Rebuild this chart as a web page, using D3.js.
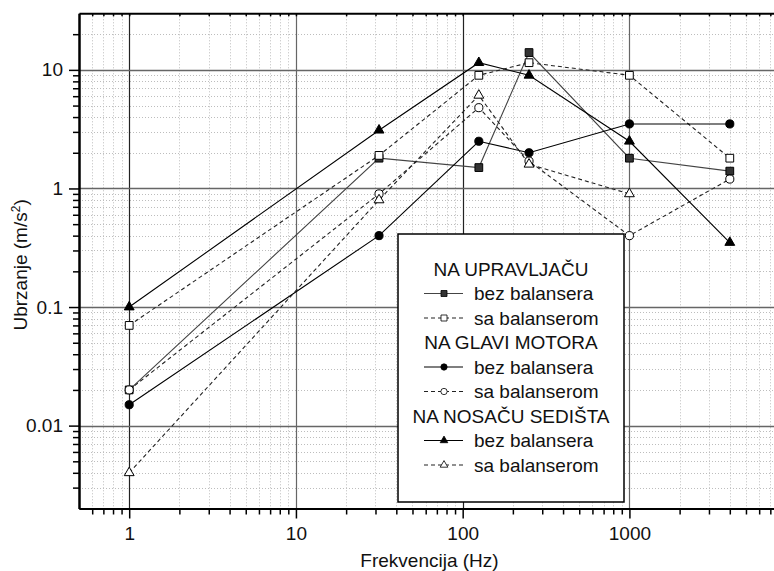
<!DOCTYPE html>
<html>
<head>
<meta charset="utf-8">
<script src="https://cdn.jsdelivr.net/npm/d3@7"></script>
<style>
  body { margin: 0; background: #fff; }
  svg text { font-family: "Liberation Sans", Arial, sans-serif; fill: #111; }
</style>
</head>
<body>
<script>
var w = 774;
var h = 571;

// frequencies (Hz) and measured accelerations (m/s^2)
var freqs = [1, 31.5, 125, 250, 1000, 4000];
var upravljacBez = [0.02, 1.8, 1.5, 14, 1.8, 1.4];
var upravljacSa = [0.07, 1.9, 9, 11.5, 9, 1.8];
var glavaBez = [0.015, 0.4, 2.5, 2.0, 3.5, 3.5];
var glavaSa = [0.02, 0.9, 4.8, 1.7, 0.4, 1.2];
var sedisteBez = [0.1, 3.1, 11.5, 9, 2.5, 0.35];
var sedisteSa = [0.004, 0.8, 6.1, 1.6, 0.9, null];

var xTicks = [1, 10, 100, 1000];
var yTicks = [0.01, 0.1, 1, 10];
var legendGroups = ["NA UPRAVLJAČU", "NA GLAVI MOTORA", "NA NOSAČU SEDIŠTA"];
var legendLabels = ["bez balansera", "sa balanserom"];

var series = [
  {vals: upravljacBez, sym: d3.symbolSquare, fill: "#333", line: "#444", dash: null, size: 60},
  {vals: upravljacSa, sym: d3.symbolSquare, fill: "#fff", line: "#222", dash: "4,3", size: 60},
  {vals: glavaBez, sym: d3.symbolCircle, fill: "#000", line: "#000", dash: null, size: 52},
  {vals: glavaSa, sym: d3.symbolCircle, fill: "#fff", line: "#222", dash: "4,3", size: 52},
  {vals: sedisteBez, sym: d3.symbolTriangle, fill: "#000", line: "#000", dash: null, size: 42},
  {vals: sedisteSa, sym: d3.symbolTriangle, fill: "#fff", line: "#222", dash: "4,3", size: 42}
];

var pLeft = 79, pRight = 780, pTop = 13.3, pBottom = 508.5;

var x = d3.scaleLog().domain([0.5, 8000]).range([pLeft, pRight]);
var y = d3.scaleLog().domain([0.002, 30]).range([pBottom, pTop]);

var svg = d3.select("body").append("svg")
  .attr("width", w)
  .attr("height", h);

svg.append("defs").append("clipPath").attr("id", "clip")
  .append("rect").attr("x", pLeft).attr("y", pTop)
  .attr("width", pRight - pLeft).attr("height", pBottom - pTop);

// minor tick positions
var xMinor = [], yMinor = [];
[0.1, 1, 10, 100, 1000].forEach(function(p) {
  for (var k = 2; k <= 9; k++) {
    var v = p * k;
    if (v > 0.5 && v < 8000) xMinor.push(v);
  }
});
[0.001, 0.01, 0.1, 1, 10].forEach(function(p) {
  for (var k = 2; k <= 9; k++) {
    var v = p * k;
    if (v > 0.002 && v < 30) yMinor.push(v);
  }
});

var grid = svg.append("g").attr("clip-path", "url(#clip)");
grid.selectAll("line.xm").data(xMinor).enter().append("line")
  .attr("x1", function(d) { return Math.round(x(d)) + 0.5; })
  .attr("x2", function(d) { return Math.round(x(d)) + 0.5; })
  .attr("y1", pTop).attr("y2", pBottom)
  .attr("stroke", "#bdbdbd").attr("stroke-dasharray", "1,2");
grid.selectAll("line.ym").data(yMinor).enter().append("line")
  .attr("y1", function(d) { return Math.round(y(d)) + 0.5; })
  .attr("y2", function(d) { return Math.round(y(d)) + 0.5; })
  .attr("x1", pLeft).attr("x2", pRight)
  .attr("stroke", "#bdbdbd").attr("stroke-dasharray", "1,2");
grid.selectAll("line.xM").data(xTicks).enter().append("line")
  .attr("x1", function(d) { return Math.round(x(d)) + 0.5; })
  .attr("x2", function(d) { return Math.round(x(d)) + 0.5; })
  .attr("y1", pTop).attr("y2", pBottom)
  .attr("stroke", function(d, i) { return i % 2 ? "#666" : "#222"; })
  .attr("stroke-width", 1.2);
grid.selectAll("line.yM").data(yTicks).enter().append("line")
  .attr("y1", function(d) { return Math.round(y(d)) + 0.5; })
  .attr("y2", function(d) { return Math.round(y(d)) + 0.5; })
  .attr("x1", pLeft).attr("x2", pRight)
  .attr("stroke", "#666").attr("stroke-width", 1.5);

// axes
function styleAxis(g) {
  g.select(".domain").attr("stroke", "#000").attr("stroke-width", 2);
  g.selectAll(".tick line").attr("stroke", "#000").attr("stroke-width", 1.5);
}
svg.append("g").attr("transform", "translate(0," + pBottom + ")")
  .call(d3.axisBottom(x).tickValues(xMinor).tickSize(6).tickSizeOuter(0).tickFormat(""))
  .call(styleAxis);
var xa = svg.append("g").attr("transform", "translate(0," + pBottom + ")")
  .call(d3.axisBottom(x).tickValues(xTicks).tickSize(10).tickSizeOuter(0).tickFormat(d3.format("")))
  .call(styleAxis);
xa.selectAll("text").attr("font-size", "19px").attr("fill", "#111").attr("y", 18);

svg.append("g").attr("transform", "translate(0," + pTop + ")")
  .call(d3.axisBottom(x).tickValues(xMinor.concat(xTicks)).tickSize(3).tickSizeOuter(0).tickFormat(""))
  .call(styleAxis);

svg.append("g").attr("transform", "translate(" + pLeft + ",0)")
  .call(d3.axisLeft(y).tickValues(yMinor).tickSize(6).tickSizeOuter(0).tickFormat(""))
  .call(styleAxis);
var ya = svg.append("g").attr("transform", "translate(" + pLeft + ",0)")
  .call(d3.axisLeft(y).tickValues(yTicks).tickSize(10).tickSizeOuter(0).tickFormat(d3.format("")))
  .call(styleAxis);
ya.selectAll("text").attr("font-size", "19px").attr("fill", "#111").attr("x", -16);

// series
var line = d3.line()
  .defined(function(d) { return d.v != null; })
  .x(function(d) { return x(d.f); })
  .y(function(d) { return y(d.v); });

var plot = svg.append("g").attr("clip-path", "url(#clip)");
series.forEach(function(s) {
  var pts = freqs.map(function(f, i) { return {f: f, v: s.vals[i]}; });
  plot.append("path").datum(pts)
    .attr("d", line)
    .attr("fill", "none")
    .attr("stroke", s.line)
    .attr("stroke-width", 1.1)
    .attr("stroke-dasharray", s.dash);
});
series.forEach(function(s) {
  var pts = freqs.map(function(f, i) { return {f: f, v: s.vals[i]}; })
    .filter(function(d) { return d.v != null; });
  plot.selectAll(null).data(pts).enter().append("path")
    .attr("transform", function(d) { return "translate(" + x(d.f) + "," + y(d.v) + ")"; })
    .attr("d", d3.symbol().type(s.sym).size(s.size))
    .attr("fill", s.fill)
    .attr("stroke", "#000")
    .attr("stroke-width", 1);
});

// legend
var lg = svg.append("g");
lg.append("rect")
  .attr("x", 398).attr("y", 234).attr("width", 226).attr("height", 268)
  .attr("fill", "#fff").attr("stroke", "#000").attr("stroke-width", 1.5);
var rowY = 269, rowStep = 24.5;
legendGroups.forEach(function(g, gi) {
  lg.append("text")
    .attr("x", 511).attr("y", rowY + (gi * 3) * rowStep)
    .attr("dy", "0.35em").attr("text-anchor", "middle")
    .attr("font-size", "19px").text(g);
  legendLabels.forEach(function(lab, li) {
    var s = series[gi * 2 + li];
    var yy = rowY + (gi * 3 + li + 1) * rowStep;
    lg.append("line")
      .attr("x1", 424).attr("x2", 463).attr("y1", yy).attr("y2", yy)
      .attr("stroke", s.line).attr("stroke-width", 1.1)
      .attr("stroke-dasharray", s.dash);
    lg.append("path")
      .attr("transform", "translate(444," + yy + ")")
      .attr("d", d3.symbol().type(s.sym).size(s.size * 0.6))
      .attr("fill", s.fill).attr("stroke", "#000").attr("stroke-width", 0.8);
    lg.append("text")
      .attr("x", 474).attr("y", yy).attr("dy", "0.35em")
      .attr("font-size", "19px").text(lab);
  });
});

// axis titles
svg.append("text")
  .attr("x", (pLeft + pRight) / 2).attr("y", 567)
  .attr("text-anchor", "middle").attr("font-size", "19px")
  .text("Frekvencija (Hz)");
var yt = svg.append("text")
  .attr("transform", "translate(27," + ((pTop + pBottom) / 2 + 4) + ") rotate(-90)")
  .attr("text-anchor", "middle").attr("font-size", "19px");
yt.append("tspan").text("Ubrzanje (m/s");
yt.append("tspan").attr("font-size", "12px").attr("dy", "-0.6em").text("2");
yt.append("tspan").attr("dy", "0.4em").text(")");
</script>
</body>
</html>
